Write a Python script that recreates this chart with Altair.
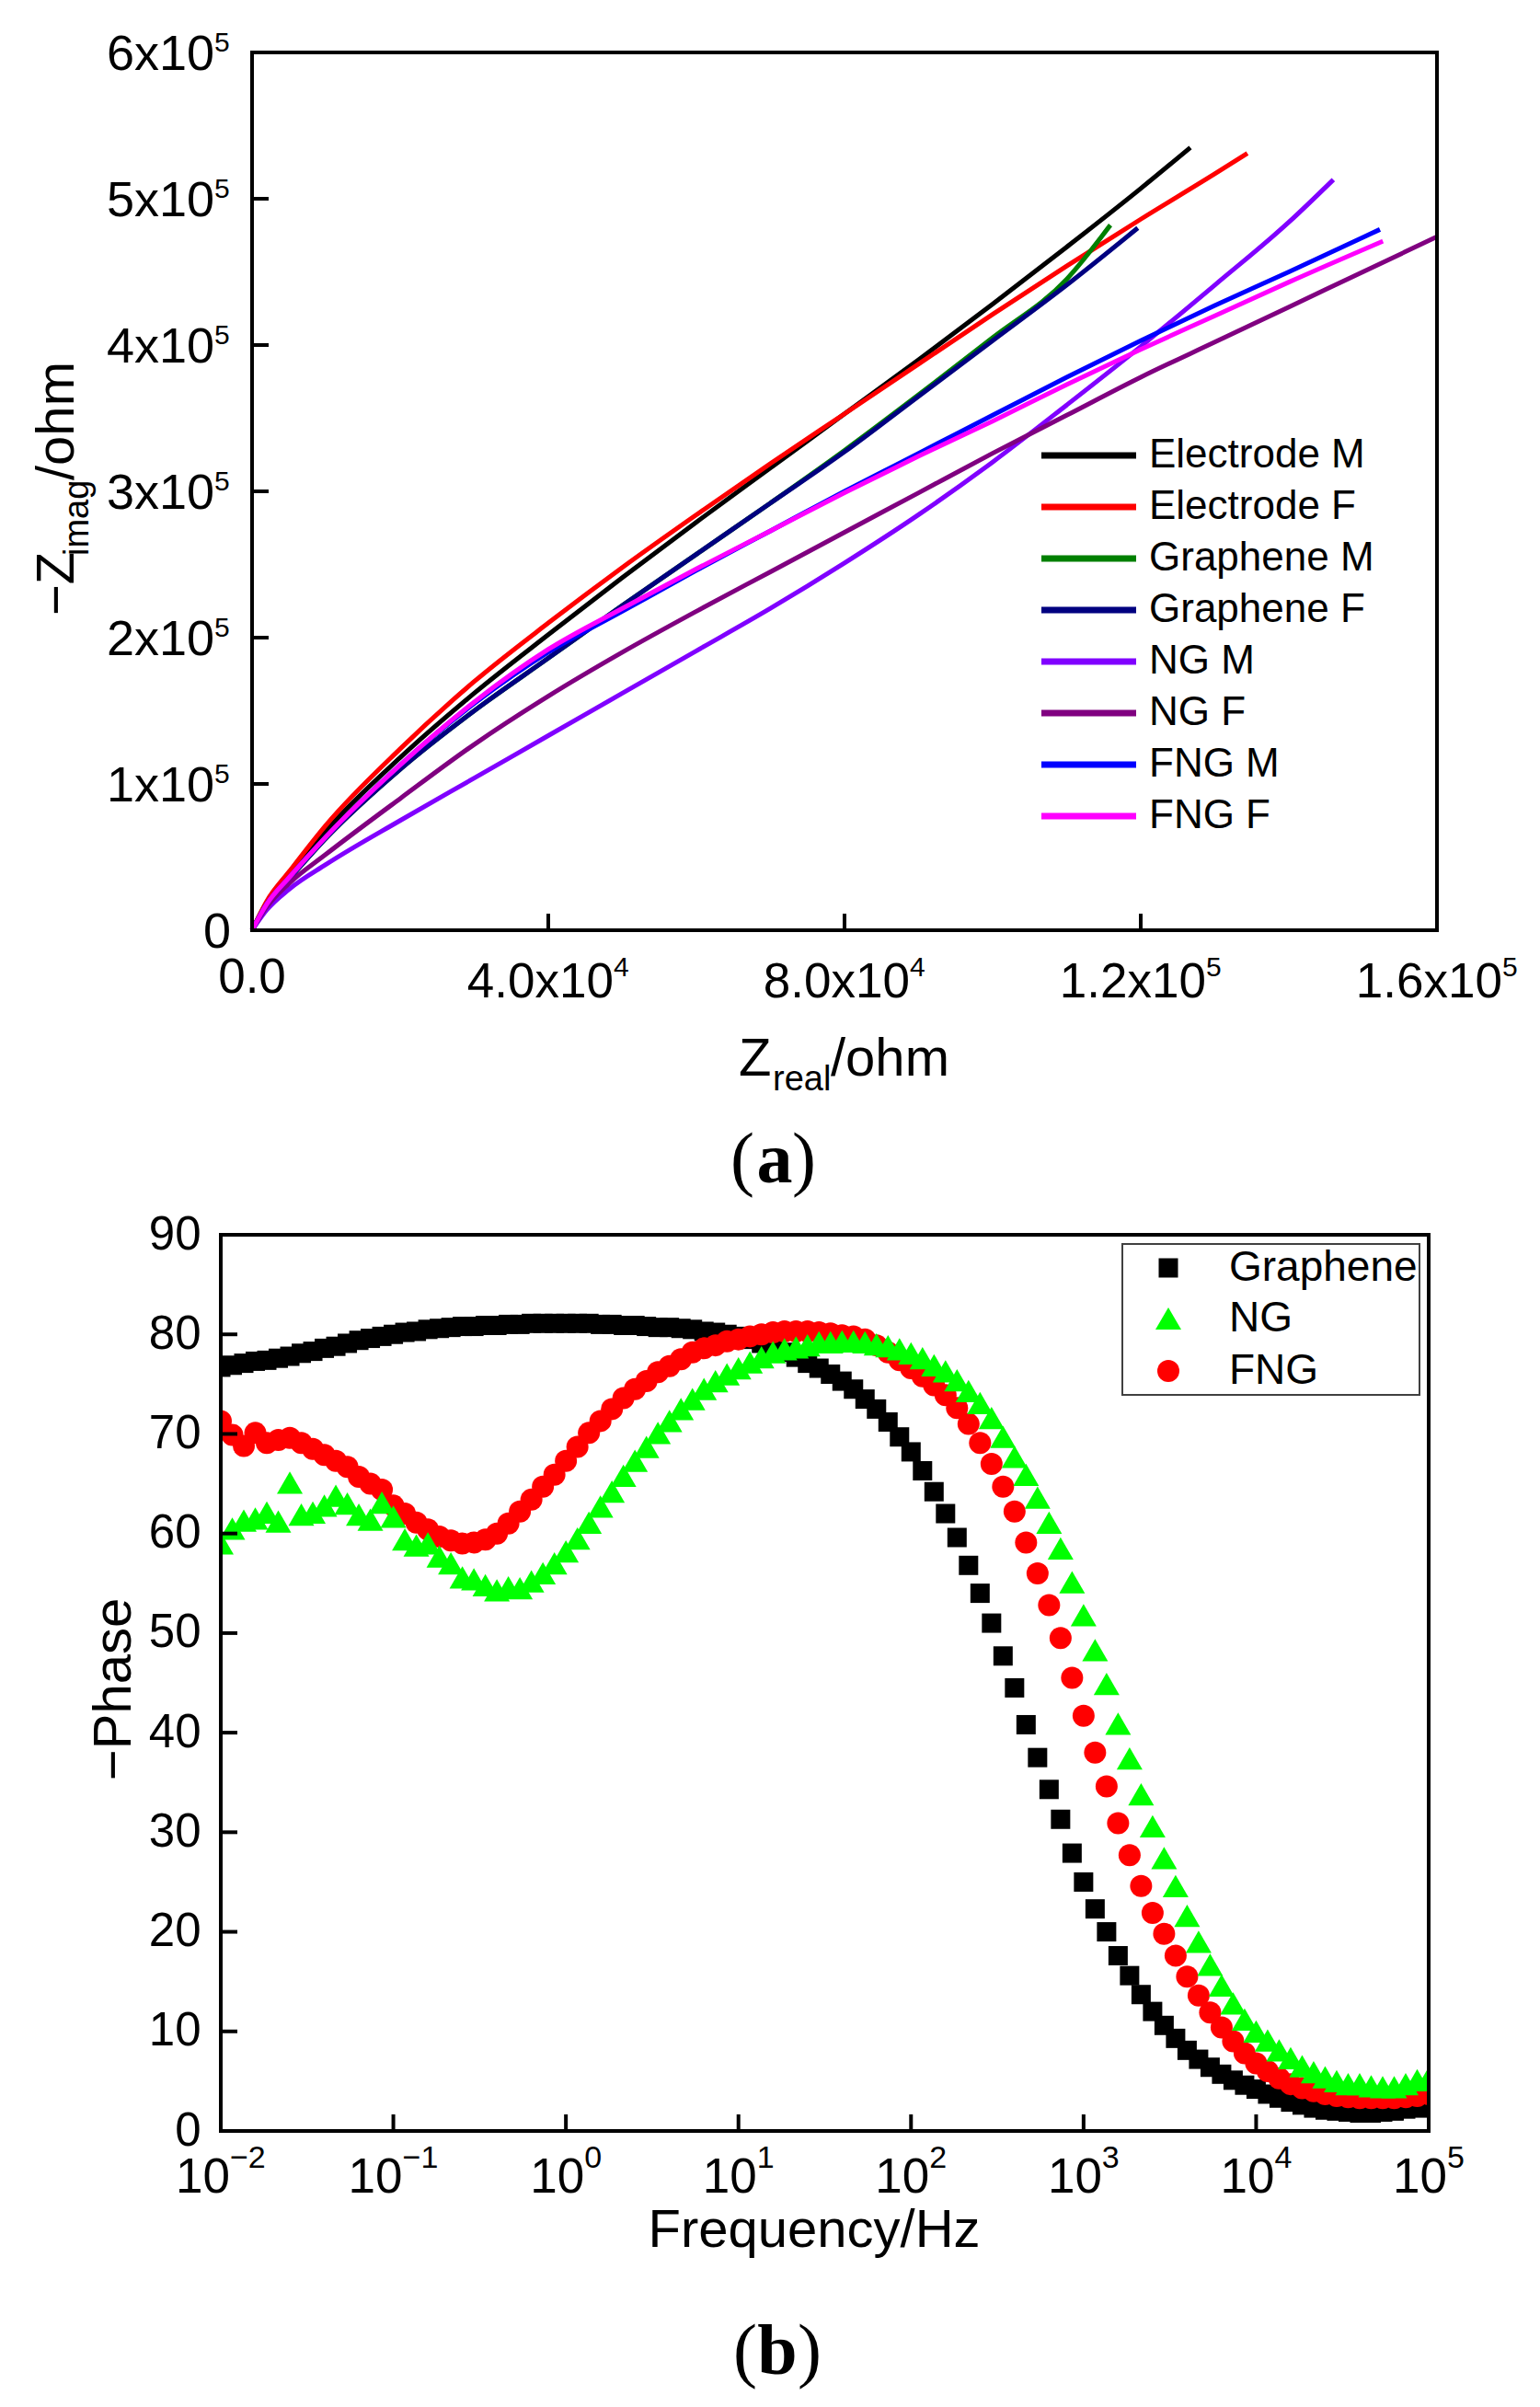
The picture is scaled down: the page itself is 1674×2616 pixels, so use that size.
import altair as alt
import pandas as pd

SANS = "Liberation Sans"
SERIF = "Liberation Serif"

# ---------------- (a) Nyquist plot ----------------
names_a = ["Electrode M", "Electrode F", "Graphene M", "Graphene F",
           "NG M", "NG F", "FNG M", "FNG F"]
colors_a = ["#000000", "#ff0000", "#008000", "#000080",
            "#8000ff", "#800080", "#0000ff", "#ff00ff"]

# Z_real in units of 1e4 ohm, -Z_imag in units of 1e5 ohm
zr_elec_m = [0, 0.2, 0.5, 1, 2, 3, 4, 5, 6, 7, 8, 9, 10, 11, 12, 12.67]
zi_elec_m = [0, 0.19, 0.37, 0.68, 1.18, 1.62, 2.02, 2.41, 2.79, 3.16, 3.53, 3.9, 4.28, 4.67, 5.07, 5.35]
zr_elec_f = [0, 0.2, 0.5, 1, 2, 3, 4, 5, 6, 7, 8, 9, 10, 11, 12, 13, 13.44]
zi_elec_f = [0, 0.2, 0.4, 0.72, 1.24, 1.7, 2.1, 2.48, 2.84, 3.19, 3.53, 3.87, 4.21, 4.54, 4.86, 5.17, 5.31]
zr_gra_m = [0, 0.2, 0.5, 1, 2, 3, 4, 5, 6, 7, 8, 9, 10, 11, 11.59]
zi_gra_m = [0, 0.18, 0.35, 0.63, 1.1, 1.5, 1.86, 2.22, 2.57, 2.92, 3.28, 3.66, 4.05, 4.45, 4.82]
zr_gra_f = [0, 0.2, 0.5, 1, 2, 3, 4, 5, 6, 7, 8, 9, 10, 11, 11.96]
zi_gra_f = [0, 0.18, 0.35, 0.63, 1.1, 1.5, 1.86, 2.22, 2.57, 2.92, 3.27, 3.65, 4.03, 4.41, 4.8]
zr_ng_m = [0, 0.2, 0.5, 1, 2, 3, 4, 5, 6, 7, 8, 9, 10, 11, 12, 13, 14, 14.6]
zi_ng_m = [0, 0.14, 0.28, 0.45, 0.75, 1.04, 1.33, 1.62, 1.91, 2.2, 2.51, 2.84, 3.2, 3.59, 3.99, 4.41, 4.84, 5.13]
zr_ng_f = [0, 0.2, 0.5, 1, 2, 3, 4, 5, 6, 7, 8, 9, 10, 11, 12, 13, 14, 15, 16]
zi_ng_f = [0, 0.16, 0.32, 0.52, 0.9, 1.27, 1.6, 1.9, 2.18, 2.45, 2.72, 2.99, 3.26, 3.52, 3.78, 4.02, 4.26, 4.5, 4.74]
zr_fng_m = [0, 0.2, 0.5, 1, 2, 3, 4, 5, 6, 7, 8, 9, 10, 11, 12, 13, 14, 15.23]
zi_fng_m = [0, 0.18, 0.36, 0.64, 1.13, 1.55, 1.9, 2.18, 2.46, 2.73, 3.0, 3.26, 3.52, 3.78, 4.03, 4.27, 4.5, 4.79]
zr_fng_f = [0, 0.2, 0.5, 1, 2, 3, 4, 5, 6, 7, 8, 9, 10, 11, 12, 13, 14, 15.27]
zi_fng_f = [0, 0.18, 0.36, 0.64, 1.13, 1.56, 1.92, 2.2, 2.47, 2.73, 2.99, 3.24, 3.48, 3.73, 3.97, 4.2, 4.43, 4.71]

# tick values and their labels (mantissa part + superscript part)
ticks_a_x = [0, 40000, 80000, 120000, 160000]
labels_a_x_base = ["0.0", "4.0x10", "8.0x10", "1.2x10", "1.6x10"]
labels_a_x_exp = ["", "4", "4", "5", "5"]
ticks_a_y = [0, 100000, 200000, 300000, 400000, 500000, 600000]
labels_a_y_base = ["0", "1x10", "2x10", "3x10", "4x10", "5x10", "6x10"]
labels_a_y_exp = ["", "5", "5", "5", "5", "5", "5"]

# ---------------- (b) Bode phase plot ----------------
freq = [0.01, 0.011659, 0.013594, 0.015849, 0.018478, 0.021544, 0.025119, 0.029286, 0.034145, 0.039811, 0.046416, 0.054117, 0.063096, 0.073564, 0.08577,
        0.1, 0.11659, 0.13594, 0.15849, 0.18478, 0.21544, 0.25119, 0.29286, 0.34145, 0.39811, 0.46416, 0.54117, 0.63096, 0.73564, 0.8577,
        1, 1.1659, 1.3594, 1.5849, 1.8478, 2.1544, 2.5119, 2.9286, 3.4145, 3.9811, 4.6416, 5.4117, 6.3096, 7.3564, 8.577,
        10, 11.659, 13.594, 15.849, 18.478, 21.544, 25.119, 29.286, 34.145, 39.811, 46.416, 54.117, 63.096, 73.564, 85.77,
        100, 116.59, 135.94, 158.49, 184.78, 215.44, 251.19, 292.86, 341.45, 398.11, 464.16, 541.17, 630.96, 735.64, 857.7,
        1000, 1165.9, 1359.4, 1584.9, 1847.8, 2154.4, 2511.9, 2928.6, 3414.5, 3981.1, 4641.6, 5411.7, 6309.6, 7356.4, 8577,
        10000, 11659, 13594, 15849, 18478, 21544, 25119, 29286, 34145, 39811, 46416, 54117, 63096, 73564, 85770,
        100000]
phase_graphene = [76.7, 76.9, 77.1, 77.3, 77.4, 77.6, 77.8, 78.1, 78.3, 78.6, 78.8, 79.1, 79.4, 79.6, 79.8,
                  80.0, 80.2, 80.3, 80.5, 80.6, 80.7, 80.8, 80.8, 80.9, 80.9, 81.0, 81.0, 81.1, 81.1, 81.1,
                  81.1, 81.1, 81.1, 81.0, 81.0, 80.9, 80.9, 80.8, 80.7, 80.7, 80.6, 80.5, 80.3, 80.2, 80.0,
                  79.8, 79.5, 79.1, 78.7, 78.2, 77.7, 77.1, 76.6, 76.0, 75.3, 74.5, 73.5, 72.5, 71.2, 69.7,
                  68.2, 66.3, 64.2, 62.0, 59.6, 56.8, 54.0, 51.0, 47.7, 44.5, 40.8, 37.5, 34.3, 31.3, 27.9,
                  25.0, 22.3, 20.0, 17.6, 15.6, 13.7, 12.0, 10.6, 9.3, 8.1, 7.2, 6.4, 5.7, 5.1, 4.6,
                  4.2, 3.7, 3.3, 2.9, 2.6, 2.3, 2.1, 2.0, 1.9, 1.8, 1.8, 1.9, 2.0, 2.2, 2.3,
                  2.5]
phase_ng = [59.0, 60.5, 61.3, 61.5, 62.1, 61.2, 65.1, 61.9, 62.1, 62.8, 63.8, 63.0, 61.9, 61.4, 63.1,
            61.7, 59.4, 58.8, 59.0, 57.7, 57.0, 55.6, 55.4, 54.8, 54.3, 54.6, 54.5, 55.2, 56.0, 57.0,
            58.2, 59.5, 61.1, 62.7, 64.2, 65.8, 67.3, 68.7, 70.1, 71.3, 72.5, 73.5, 74.5, 75.3, 76.0,
            76.6, 77.2, 77.7, 78.2, 78.5, 78.7, 78.9, 79.2, 79.2, 79.3, 79.3, 79.2, 79.0, 78.8, 78.5,
            78.1, 77.6, 76.9, 76.3, 75.4, 74.3, 73.1, 71.6, 69.7, 67.7, 65.9, 63.6, 61.1, 58.5, 55.1,
            51.8, 48.3, 44.9, 40.9, 37.4, 33.8, 30.6, 27.4, 24.6, 21.6, 19.0, 16.7, 14.6, 12.8, 11.2,
            10.0, 9.1, 8.1, 7.3, 6.5, 5.9, 5.4, 5.0, 4.7, 4.7, 4.5, 4.4, 4.4, 4.7, 5.1,
            5.3]
phase_fng = [71.3, 69.9, 68.8, 70.1, 69.1, 69.4, 69.6, 69.1, 68.5, 67.9, 67.3, 66.7, 65.7, 65.0, 64.4,
             62.8, 62.0, 61.1, 60.4, 59.7, 59.3, 59.0, 59.1, 59.4, 60.0, 61.0, 62.2, 63.4, 64.7, 65.9,
             67.3, 68.7, 70.1, 71.3, 72.5, 73.6, 74.5, 75.3, 76.2, 76.8, 77.5, 78.2, 78.6, 78.9, 79.3,
             79.5, 79.8, 80.0, 80.2, 80.3, 80.3, 80.3, 80.2, 80.1, 79.9, 79.8, 79.5, 78.9, 78.2, 77.4,
             76.6, 75.8, 74.9, 73.9, 72.6, 71.0, 69.1, 67.0, 64.7, 62.2, 59.1, 56.0, 52.8, 49.5, 45.5,
             41.7, 38.0, 34.6, 30.9, 27.7, 24.6, 21.9, 19.8, 17.6, 15.5, 13.6, 11.9, 10.4, 9.0, 7.8,
             6.8, 6.0, 5.3, 4.7, 4.3, 4.0, 3.7, 3.5, 3.4, 3.3, 3.3, 3.3, 3.3, 3.4, 3.5,
             3.7]

names_b = ["Graphene", "NG", "FNG"]
ticks_b_x = [0.01, 0.1, 1, 10, 100, 1000, 10000, 100000]
labels_b_x_base = ["10", "10", "10", "10", "10", "10", "10", "10"]
labels_b_x_exp = ["\u22122", "\u22121", "0", "1", "2", "3", "4", "5"]
ticks_b_y = [0, 10, 20, 30, 40, 50, 60, 70, 80, 90]

one = pd.DataFrame({"k": [0]})


def txt(s, x, y, size, font=SANS, **kw):
    return alt.Chart(one).mark_text(text=s, font=font, fontSize=size, color="black", **kw).encode(
        x=alt.value(x), y=alt.value(y))


def tick_text(df, size, **kw):
    return alt.Chart(df).mark_text(font=SANS, fontSize=size, color="black",
                                   baseline="alphabetic", **kw)


# ---- panel (a) ----
W_A, H_A, X0_A = 1322, 954, 34
curves_a = {
    "Electrode M": (zr_elec_m, zi_elec_m), "Electrode F": (zr_elec_f, zi_elec_f),
    "Graphene M": (zr_gra_m, zi_gra_m), "Graphene F": (zr_gra_f, zi_gra_f),
    "NG M": (zr_ng_m, zi_ng_m), "NG F": (zr_ng_f, zi_ng_f),
    "FNG M": (zr_fng_m, zi_fng_m), "FNG F": (zr_fng_f, zi_fng_f),
}
rows = []
for name in names_a:
    xs, ys = curves_a[name]
    for xv, yv in zip(xs, ys):
        rows.append({"series": name, "zr": xv * 1e4, "zi": yv * 1e5})
df_a = pd.DataFrame(rows)

xs_a = alt.Scale(domain=[0, 160000], range=[X0_A, W_A], nice=False, zero=False)
ys_a = alt.Scale(domain=[0, 600000], nice=False)

lines_a = alt.Chart(df_a).mark_line(strokeWidth=5, clip=True, interpolate="monotone").encode(
    x=alt.X("zr:Q", scale=xs_a, axis=None),
    y=alt.Y("zi:Q", scale=ys_a, axis=None),
    color=alt.Color("series:N", scale=alt.Scale(domain=names_a, range=colors_a), legend=None),
)
tick_xa = alt.Chart(pd.DataFrame({"zr": ticks_a_x})).mark_rule(color="black", strokeWidth=4).encode(
    x=alt.X("zr:Q", scale=xs_a, axis=None), y=alt.value(H_A), y2=alt.value(H_A - 18))
tick_ya = alt.Chart(pd.DataFrame({"zi": ticks_a_y})).mark_rule(color="black", strokeWidth=4).encode(
    y=alt.Y("zi:Q", scale=ys_a, axis=None), x=alt.value(X0_A), x2=alt.value(X0_A + 18))
frame_a = alt.Chart(one).mark_rect(fillOpacity=0, stroke="black", strokeWidth=4).encode(
    x=alt.value(X0_A), x2=alt.value(W_A), y=alt.value(0), y2=alt.value(H_A))

# tick labels with real superscripts
df_xa = pd.DataFrame({"zr": ticks_a_x, "base": labels_a_x_base, "exp": labels_a_x_exp})
df_ya = pd.DataFrame({"zi": ticks_a_y, "base": labels_a_y_base, "exp": labels_a_y_exp})
lab_a = [
    tick_text(df_xa.iloc[:1], 53, align="center").encode(
        x=alt.X("zr:Q", scale=xs_a, axis=None), y=alt.value(1022), text="base:N"),
    tick_text(df_xa.iloc[1:], 53, align="right", dx=71).encode(
        x=alt.X("zr:Q", scale=xs_a, axis=None), y=alt.value(1027), text="base:N"),
    tick_text(df_xa.iloc[1:], 30, align="left", dx=71).encode(
        x=alt.X("zr:Q", scale=xs_a, axis=None), y=alt.value(1004), text="exp:N"),
    tick_text(df_ya.iloc[:1], 54, align="right", dy=19).encode(
        y=alt.Y("zi:Q", scale=ys_a, axis=None), x=alt.value(11), text="base:N"),
    tick_text(df_ya.iloc[1:], 54, align="right", dy=19).encode(
        y=alt.Y("zi:Q", scale=ys_a, axis=None), x=alt.value(-7), text="base:N"),
    tick_text(df_ya.iloc[1:], 30, align="left", dy=-1).encode(
        y=alt.Y("zi:Q", scale=ys_a, axis=None), x=alt.value(-7), text="exp:N"),
]

legend_a = []
for k, (name, col) in enumerate(zip(names_a, colors_a)):
    yk = 438 + 56 * k
    legend_a.append(alt.Chart(one).mark_rule(color=col, strokeWidth=7).encode(
        x=alt.value(892), x2=alt.value(995), y=alt.value(yk)))
    legend_a.append(txt(name, 1009, yk, 44, align="left", baseline="middle"))

titles_a = [
    txt("Z", 563, 1112, 58, align="left", baseline="alphabetic"),
    txt("real", 600, 1128, 38, align="left", baseline="alphabetic"),
    txt("/ohm", 663, 1112, 58, align="left", baseline="alphabetic"),
    txt("\u2212Z", -160, 612, 58, align="left", baseline="alphabetic", angle=270),
    txt("imag", -144, 547, 38, align="left", baseline="alphabetic", angle=270),
    txt("/ohm", -160, 465, 58, align="left", baseline="alphabetic", angle=270),
    txt("(", 580, 1228, 78, font=SERIF, align="right", baseline="alphabetic"),
    txt("a", 602, 1228, 78, font=SERIF, align="center", baseline="alphabetic", fontWeight="bold"),
    txt(")", 621, 1228, 78, font=SERIF, align="left", baseline="alphabetic"),
]

chart_a = alt.layer(lines_a, tick_xa, tick_ya, frame_a, *lab_a, *legend_a, *titles_a).properties(
    width=W_A, height=H_A)

# ---- panel (b) ----
W_B, H_B = 1313, 974
df_b = pd.DataFrame({"freq": freq, "Graphene": phase_graphene, "NG": phase_ng, "FNG": phase_fng})
xs_b = alt.Scale(type="log", domain=[0.01, 100000], nice=False)
ys_b = alt.Scale(domain=[0, 90], nice=False)
ax_yb = alt.Axis(values=ticks_b_y, title=None, ticks=False, tickSize=0, domain=False, grid=False,
                 labelFontSize=51, labelPadding=22, labelFlush=False, labelOverlap=False)

styles_b = {
    "Graphene": dict(shape="square", size=441, color="#000000"),
    "FNG": dict(shape="circle", size=576, color="#ff0000"),
    "NG": dict(shape="triangle-up", size=784, color="#00ff00"),
}
points_b = []
for name in ["Graphene", "FNG", "NG"]:
    points_b.append(alt.Chart(df_b).mark_point(filled=True, opacity=1, clip=True, **styles_b[name]).encode(
        x=alt.X("freq:Q", scale=xs_b, axis=None),
        y=alt.Y(name + ":Q", scale=ys_b, axis=ax_yb)))

tick_xb = alt.Chart(pd.DataFrame({"freq": ticks_b_x})).mark_rule(color="black", strokeWidth=4).encode(
    x=alt.X("freq:Q", scale=xs_b, axis=None), y=alt.value(H_B), y2=alt.value(H_B - 18))
tick_yb = alt.Chart(pd.DataFrame({"Graphene": ticks_b_y})).mark_rule(color="black", strokeWidth=4).encode(
    y=alt.Y("Graphene:Q", scale=ys_b, axis=ax_yb), x=alt.value(0), x2=alt.value(18))
frame_b = alt.Chart(one).mark_rect(fillOpacity=0, stroke="black", strokeWidth=4).encode(
    x=alt.value(0), x2=alt.value(W_B), y=alt.value(0), y2=alt.value(H_B))

df_xb = pd.DataFrame({"freq": ticks_b_x, "base": labels_b_x_base, "exp": labels_b_x_exp})
lab_b = [
    tick_text(df_xb.iloc[:2], 53, align="right", dx=10).encode(
        x=alt.X("freq:Q", scale=xs_b, axis=None), y=alt.value(1041), text="base:N"),
    tick_text(df_xb.iloc[:2], 34, align="left", dx=10).encode(
        x=alt.X("freq:Q", scale=xs_b, axis=None), y=alt.value(1014), text="exp:N"),
    tick_text(df_xb.iloc[2:], 53, align="right", dx=20).encode(
        x=alt.X("freq:Q", scale=xs_b, axis=None), y=alt.value(1041), text="base:N"),
    tick_text(df_xb.iloc[2:], 34, align="left", dx=20).encode(
        x=alt.X("freq:Q", scale=xs_b, axis=None), y=alt.value(1014), text="exp:N"),
]

legend_b = [alt.Chart(one).mark_rect(fillOpacity=0, stroke="#404040", strokeWidth=2).encode(
    x=alt.value(980), x2=alt.value(1303), y=alt.value(10), y2=alt.value(174))]
for name, yk in zip(names_b, [36, 91, 148]):
    legend_b.append(alt.Chart(one).mark_point(filled=True, opacity=1, **styles_b[name]).encode(
        x=alt.value(1030), y=alt.value(yk)))
    legend_b.append(txt(name, 1096, yk, 46, align="left", baseline="middle"))

titles_b = [
    txt("Frequency/Hz", 645, 1100, 58, align="center", baseline="alphabetic"),
    txt("\u2212Phase", -98, 494, 58, align="center", baseline="alphabetic", angle=270),
    txt("(", 583, 1238, 78, font=SERIF, align="right", baseline="alphabetic"),
    txt("b", 605, 1238, 78, font=SERIF, align="center", baseline="alphabetic", fontWeight="bold"),
    txt(")", 627, 1238, 78, font=SERIF, align="left", baseline="alphabetic"),
]

chart_b = alt.layer(*points_b, tick_xb, tick_yb, frame_b, *lab_b, *legend_b, *titles_b).properties(
    width=W_B, height=H_B)

chart = alt.vconcat(chart_a, chart_b, spacing=15).properties(
    padding={"left": 26, "top": 24, "right": 5, "bottom": 5}
).configure_view(stroke=None).configure_axis(
    labelFont=SANS, titleFont=SANS, labelColor="black", titleColor="black", titleFontWeight="normal"
)

chart.save("out.html", embed_options={"renderer": "svg", "actions": False})
